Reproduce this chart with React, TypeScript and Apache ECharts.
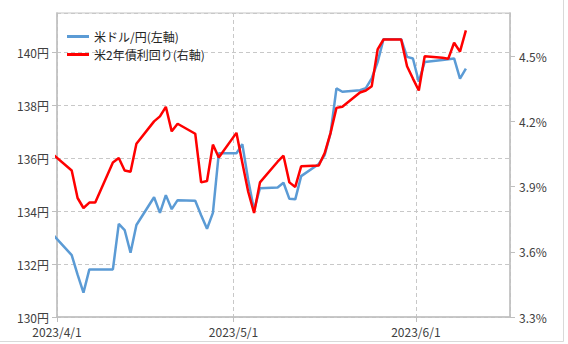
import React, { useEffect, useRef } from "react";
import * as echarts from "echarts";

const dates = [
  "2023-03-31",
  "2023-04-03", "2023-04-04", "2023-04-05", "2023-04-06", "2023-04-07",
  "2023-04-10", "2023-04-11", "2023-04-12", "2023-04-13", "2023-04-14",
  "2023-04-17", "2023-04-18", "2023-04-19", "2023-04-20", "2023-04-21",
  "2023-04-24", "2023-04-25", "2023-04-26", "2023-04-27", "2023-04-28",
  "2023-05-01", "2023-05-02", "2023-05-03", "2023-05-04", "2023-05-05",
  "2023-05-08", "2023-05-09", "2023-05-10", "2023-05-11", "2023-05-12",
  "2023-05-15", "2023-05-16", "2023-05-17", "2023-05-18", "2023-05-19",
  "2023-05-22", "2023-05-23", "2023-05-24", "2023-05-25", "2023-05-26",
  "2023-05-29", "2023-05-30", "2023-05-31", "2023-06-01", "2023-06-02",
  "2023-06-05", "2023-06-06", "2023-06-07", "2023-06-08", "2023-06-09",
];

const usdJpy = [
  133.07,
  132.34, 131.6, 130.92, 131.8, 131.8,
  131.8, 133.52, 133.29, 132.43, 133.48,
  134.53, 133.94, 134.61, 134.08, 134.42,
  134.4, 133.85, 133.34, 133.94, 136.19,
  136.19, 136.54, 135.18, 134.05, 134.87,
  134.9, 135.08, 134.47, 134.45, 135.33,
  135.79, 136.13, 136.95, 138.65, 138.52,
  138.58, 138.66, 139.03, 139.64, 140.51,
  140.51, 139.84, 139.78, 138.9, 139.65,
  139.72, 139.75, 139.78, 139.02, 139.4,
];

const us2y = [
  4.045,
  3.975, 3.848, 3.802, 3.827, 3.827,
  4.012, 4.032, 3.975, 3.969, 4.098,
  4.201, 4.224, 4.268, 4.155, 4.19,
  4.144, 3.92, 3.926, 4.094, 4.035,
  4.148, 4.01, 3.877, 3.779, 3.92,
  4.015, 4.043, 3.92, 3.899, 3.994,
  3.998, 4.055, 4.148, 4.263, 4.268,
  4.334, 4.343, 4.363, 4.532, 4.578,
  4.578, 4.455, 4.398, 4.343, 4.501,
  4.494, 4.489, 4.563, 4.522, 4.62,
];

const seriesNames = ["米ドル/円(左軸)", "米2年債利回り(右軸)"];

const FONT = '"Noto Sans CJK JP", "Noto Sans", sans-serif';

function toTime(s: string): number {
  const [y, m, d] = s.split("-").map(Number);
  return new Date(y, m - 1, d, 12).getTime();
}

export default function App() {
  const ref = useRef<HTMLDivElement>(null);
  useEffect(() => {
    document.body.style.margin = "0";
    if (!ref.current) return;
    const chart = echarts.init(ref.current, null, { renderer: "svg" });
    const DAY = 86400000;
    const option: any = {
      animation: false,
      backgroundColor: "#ffffff",
      textStyle: { fontFamily: FONT },
      grid: {
        left: 57,
        right: 58,
        top: 13,
        bottom: 27,
        show: true,
        borderColor: "#d9d9d9",
        borderWidth: 1.5,
        backgroundColor: "transparent",
      },
      legend: {
        orient: "vertical",
        left: 62,
        top: 25,
        itemWidth: 22,
        itemHeight: 3,
        itemGap: 5,
        icon: "rect",
        textStyle: { fontFamily: FONT, fontSize: 12, color: "#262626", lineHeight: 13 },
        data: seriesNames,
      },
      xAxis: {
        type: "time",
        min: new Date(2023, 3, 1).getTime(),
        max: new Date(2023, 5, 17).getTime(),
        minInterval: 28 * DAY,
        maxInterval: 31 * DAY,
        axisLine: { show: true, lineStyle: { color: "#bfbfbf", width: 1.5 } },
        axisTick: { show: true, length: 5, lineStyle: { color: "#bfbfbf" } },
        splitLine: { show: true, lineStyle: { color: "#c8c8c8", type: [4, 3], width: 1 } },
        axisLabel: {
          color: "#404040",
          fontSize: 12,
          lineHeight: 12,
          fontFamily: FONT,
          margin: 8,
          showMaxLabel: false,
          formatter: (v: number) => {
            const d = new Date(v);
            return `${d.getFullYear()}/${d.getMonth() + 1}/${d.getDate()}`;
          },
        },
      },
      yAxis: [
        {
          type: "value",
          min: 130,
          max: 141.5,
          interval: 2,
          axisLine: { show: true, lineStyle: { color: "#bfbfbf", width: 1.5 } },
          axisTick: { show: true, length: 5, lineStyle: { color: "#bfbfbf" } },
          splitLine: { show: true, lineStyle: { color: "#c8c8c8", type: [4, 3], width: 1 } },
          axisLabel: {
            color: "#404040",
            fontSize: 12,
            lineHeight: 12,
            fontFamily: FONT,
            margin: 8,
            showMaxLabel: false,
            formatter: (v: number) => `${Math.round(v)}円`,
          },
        },
        {
          type: "value",
          min: 3.3,
          max: 4.7,
          interval: 0.3,
          position: "right",
          axisLine: { show: true, lineStyle: { color: "#bfbfbf", width: 1.5 } },
          axisTick: { show: true, length: 5, lineStyle: { color: "#bfbfbf" } },
          splitLine: { show: false },
          axisLabel: {
            color: "#404040",
            fontSize: 12,
            lineHeight: 12,
            fontFamily: FONT,
            margin: 9,
            showMaxLabel: false,
            formatter: (v: number) => `${v.toFixed(1)}%`,
          },
        },
      ],
      series: [
        {
          name: seriesNames[0],
          type: "line",
          yAxisIndex: 0,
          showSymbol: false,
          symbol: "none",
          clip: true,
          lineStyle: { color: "#5b9bd5", width: 2.5 },
          itemStyle: { color: "#5b9bd5" },
          data: dates.map((d, i) => [toTime(d), usdJpy[i]]),
        },
        {
          name: seriesNames[1],
          type: "line",
          yAxisIndex: 1,
          showSymbol: false,
          symbol: "none",
          clip: true,
          lineStyle: { color: "#ff0000", width: 2.5 },
          itemStyle: { color: "#ff0000" },
          data: dates.map((d, i) => [toTime(d), us2y[i]]),
        },
      ],
      graphic: [
        {
          type: "line",
          shape: { x1: 563.5, y1: 0, x2: 563.5, y2: 341.5 },
          style: { stroke: "#d9d9d9", lineWidth: 1 },
        },
        {
          type: "line",
          shape: { x1: 0, y1: 341.5, x2: 563.5, y2: 341.5 },
          style: { stroke: "#d9d9d9", lineWidth: 1 },
        },
      ],
    };
    chart.setOption(option);
    return () => chart.dispose();
  }, []);
  return <div ref={ref} style={{ width: 568, height: 344 }} />;
}
